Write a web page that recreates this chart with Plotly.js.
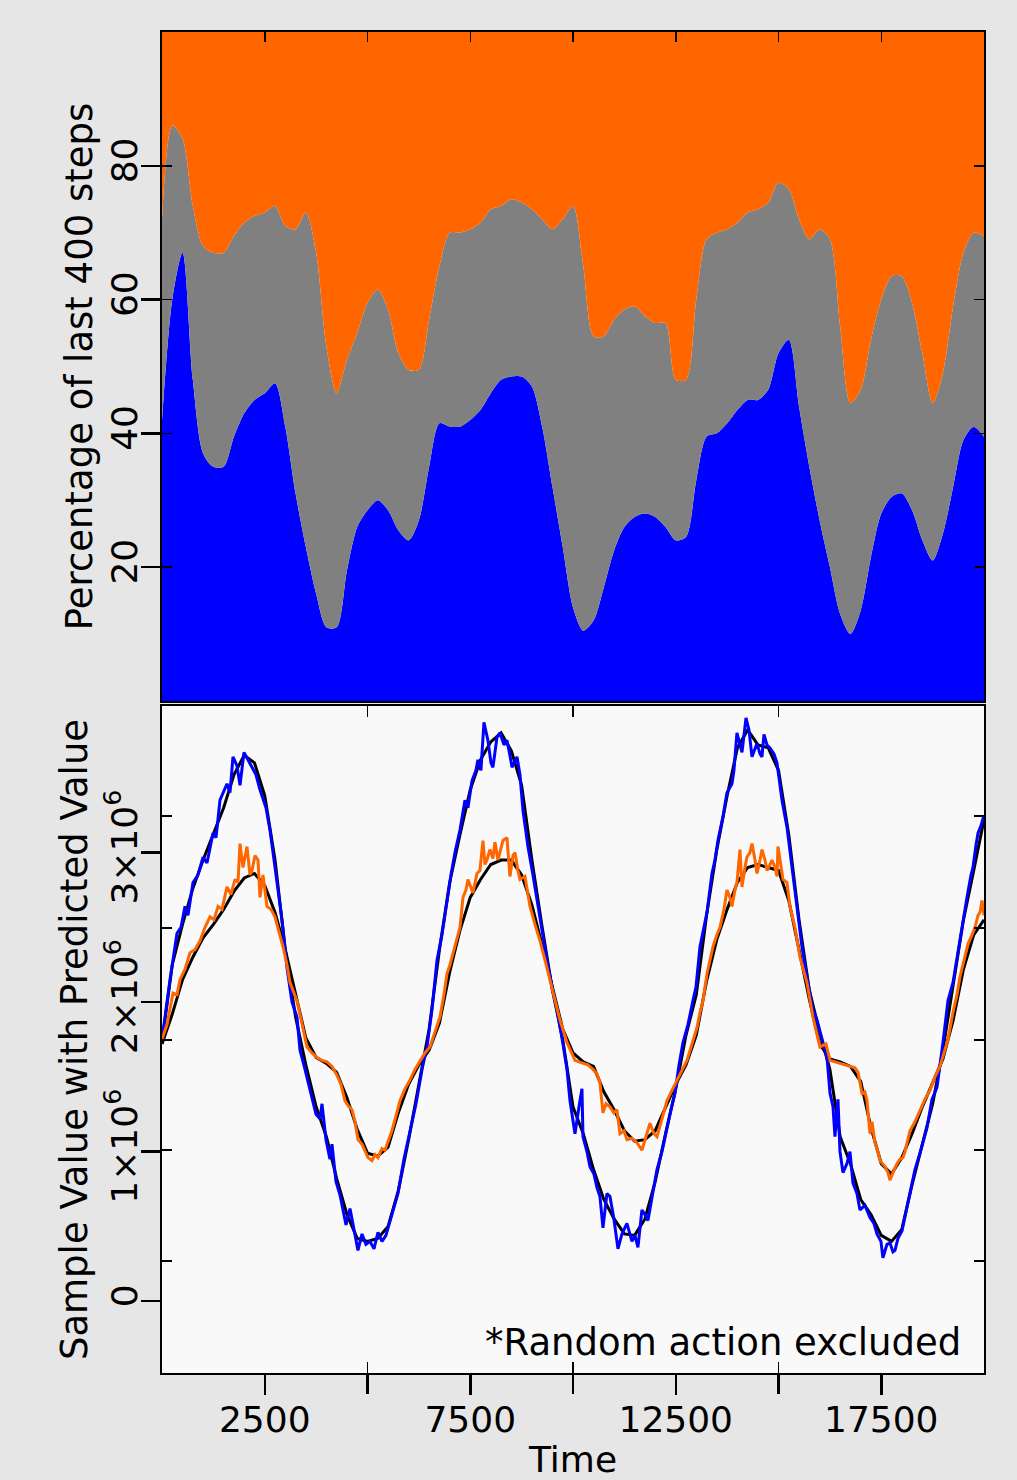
<!DOCTYPE html>
<html>
<head>
<meta charset="utf-8">
<script src="https://cdn.plot.ly/plotly-3.0.1.min.js"></script>
<style>html,body{margin:0;padding:0;background:#e6e6e6;}#chart{width:1017px;height:1480px;}</style>
</head>
<body>
<div id="chart"></div>
<script>
// ---------- Top panel: share of actions over last 400 steps ----------
const shareTime = [0,250,500,750,1000,1250,1500,1750,2000,2250,2500,2750,3000,3250,3500,3750,4000,4250,4500,4750,5000,5250,5500,5750,6000,6250,6500,6750,7000,7250,7500,7750,8000,8250,8500,8750,9000,9250,9500,9750,10000,10250,10500,10750,11000,11250,11500,11750,12000,12250,12500,12750,13000,13250,13500,13750,14000,14250,14500,14750,15000,15250,15500,15750,16000,16250,16500,16750,17000,17250,17500,17750,18000,18250,18500,18750,19000,19250,19500,19750,20000];
// upper edge of the blue band (percent)
const blueTop = [42,60,67,48,37,35,35,39.5,43,45,46,47.5,41,31,23,16,11,11,19.5,26,28.5,30,28.5,25.5,24,27,35,41.5,41,41,42,43.5,46,48,48.5,48.5,47,41,32,23,14,10.5,12,17,22.5,26,27.5,28,27.5,26,24,24.5,33,39.5,40,41.5,43.5,45,45,46.5,52,54,44,35,27,20,13,10,13.5,21.5,28,30.5,31,28.5,24,21,25,32,39,41,39.5];
// upper edge of the gray band (percent)
const grayTop = [72,86,84,74,68,67,67,69.5,71.5,72.5,73,74,71,70.5,73,67,53,46,51,55,59.5,61.5,58.5,52,49.5,49.5,57,65,70,70,70.5,71.5,73.5,74,75,74.5,73.5,72,70.5,72,74,65,54.5,54.5,57,58.5,59,57.5,56.5,56.5,48,48,60,69,70,70.5,71.5,73,73.5,74.5,77.5,76.5,72,69,70.5,69,56,44.5,46.5,54,60,63.5,63.5,59.5,52,44.5,49,59,67,70,69.5];

// ---------- Bottom panel: sample values and predictions (millions) ----------
const bluePredTime = [0,195,365,462,560,633,754,876,998,1095,1241,1314,1411,1581,1654,1727,1825,1898,1995,2092,2190,2287,2384,2530,2628,2798,2920,3041,3163,3285,3357,3479,3601,3747,3844,3893,3990,4087,4136,4233,4331,4477,4574,4671,4768,4866,4963,5060,5158,5255,5352,5449,5595,5741,5887,6033,6180,6326,6447,6569,6691,6812,6934,7031,7128,7250,7371,7444,7542,7639,7687,7760,7833,7930,8004,8052,8150,8223,8320,8393,8466,8515,8637,8710,8783,8904,9026,9124,9245,9367,9489,9610,9756,9854,9927,10048,10146,10218,10243,10340,10413,10510,10583,10656,10729,10826,10899,10996,11094,11191,11312,11434,11507,11580,11677,11750,11823,11920,12043,12165,12286,12384,12481,12579,12676,12797,12919,12992,13089,13187,13260,13381,13454,13527,13649,13746,13868,13916,13989,14063,14112,14209,14282,14355,14428,14477,14550,14598,14647,14720,14793,14890,14963,15085,15206,15328,15450,15571,15717,15839,15936,16058,16180,16253,16326,16374,16447,16496,16569,16666,16739,16812,16909,16982,17104,17225,17322,17395,17493,17541,17639,17712,17785,17834,17907,18004,18101,18198,18320,18442,18613,18734,18856,19002,19124,19245,19343,19416,19513,19586,19683,19732,19805,19854,19927,20000];
const bluePred = [1.75,2.15,2.46,2.50,2.64,2.58,2.80,2.85,2.97,2.93,3.13,3.10,3.35,3.46,3.40,3.64,3.58,3.45,3.67,3.62,3.57,3.52,3.42,3.30,3.15,2.80,2.55,2.23,2.00,1.90,1.68,1.55,1.41,1.25,1.22,1.32,1.08,0.95,1.05,0.80,0.71,0.51,0.62,0.48,0.34,0.45,0.38,0.40,0.35,0.46,0.40,0.44,0.58,0.72,0.95,1.14,1.32,1.55,1.70,1.95,2.28,2.45,2.68,2.85,3.00,3.15,3.35,3.30,3.48,3.55,3.62,3.55,3.87,3.75,3.60,3.57,3.77,3.80,3.72,3.75,3.65,3.57,3.64,3.52,3.28,3.04,2.85,2.68,2.48,2.28,2.10,1.95,1.72,1.55,1.34,1.12,1.30,1.42,1.10,1.00,0.90,0.85,0.76,0.70,0.49,0.72,0.70,0.55,0.35,0.45,0.52,0.40,0.44,0.36,0.61,0.58,0.54,0.70,0.88,1.00,1.16,1.28,1.39,1.58,1.73,1.85,2.01,2.10,2.37,2.50,2.60,2.86,2.95,3.08,3.24,3.40,3.46,3.55,3.80,3.72,3.67,3.90,3.82,3.64,3.70,3.73,3.66,3.64,3.79,3.72,3.70,3.66,3.60,3.35,3.17,2.90,2.64,2.37,2.13,1.95,1.88,1.75,1.63,1.39,1.30,1.10,1.35,1.00,0.86,0.92,1.00,0.79,0.72,0.61,0.64,0.56,0.52,0.45,0.40,0.29,0.38,0.39,0.33,0.34,0.42,0.47,0.60,0.72,0.88,0.99,1.16,1.35,1.43,1.73,2.01,2.13,2.30,2.41,2.60,2.70,2.85,2.90,3.05,3.13,3.18,3.25];

const sampleTime = [0,250,500,750,1000,1250,1500,1750,2000,2250,2500,2750,3000,3250,3500,3750,4000,4250,4500,4750,5000,5250,5500,5750,6000,6250,6500,6750,7000,7250,7500,7750,8000,8250,8500,8750,9000,9250,9500,9750,10000,10250,10500,10750,11000,11250,11500,11750,12000,12250,12500,12750,13000,13250,13500,13750,14000,14250,14500,14750,15000,15250,15500,15750,16000,16250,16500,16750,17000,17250,17500,17750,18000,18250,18500,18750,19000,19250,19500,19750,20000];
const sampleA = [1.73,2.25,2.52,2.76,2.95,3.12,3.30,3.52,3.65,3.60,3.38,2.95,2.35,1.90,1.58,1.30,1.10,0.82,0.58,0.42,0.40,0.42,0.50,0.74,1.08,1.45,1.82,2.35,2.80,3.12,3.42,3.62,3.74,3.80,3.68,3.45,2.95,2.50,2.08,1.75,1.30,1.12,0.88,0.68,0.55,0.45,0.44,0.55,0.80,1.12,1.42,1.78,2.05,2.58,3.02,3.38,3.70,3.82,3.72,3.70,3.55,3.12,2.55,2.08,1.80,1.55,1.10,0.92,0.68,0.58,0.44,0.40,0.48,0.78,1.05,1.32,1.68,2.10,2.55,2.88,3.22];
const sampleB = [1.72,1.92,2.15,2.30,2.43,2.52,2.62,2.74,2.83,2.86,2.78,2.60,2.35,2.05,1.76,1.63,1.59,1.53,1.36,1.15,0.99,0.97,1.03,1.26,1.45,1.58,1.68,1.86,2.20,2.48,2.70,2.82,2.92,2.95,2.95,2.85,2.65,2.38,2.10,1.82,1.66,1.60,1.57,1.40,1.28,1.14,1.07,1.08,1.14,1.30,1.45,1.58,1.78,2.14,2.42,2.62,2.80,2.90,2.92,2.90,2.88,2.68,2.35,2.02,1.72,1.62,1.60,1.57,1.47,1.16,0.92,0.85,0.96,1.12,1.30,1.46,1.62,1.88,2.22,2.45,2.55];

const orangePredTime = [0,122,268,365,438,560,681,803,925,1046,1168,1265,1363,1460,1581,1679,1776,1849,1898,1971,2068,2141,2190,2263,2336,2384,2457,2555,2652,2749,2847,2944,3041,3114,3285,3406,3528,3649,3771,3893,4014,4136,4258,4355,4452,4550,4623,4696,4769,4866,4939,5012,5109,5182,5255,5352,5425,5522,5595,5693,5790,5912,6034,6155,6277,6398,6520,6642,6763,6861,6934,7007,7080,7177,7250,7323,7396,7444,7517,7566,7663,7736,7809,7858,7906,7979,8052,8101,8174,8247,8295,8393,8466,8539,8588,8661,8710,8831,8953,9075,9197,9318,9440,9562,9683,9854,9975,10048,10146,10243,10365,10486,10583,10656,10729,10802,10899,10996,11069,11142,11240,11313,11434,11556,11678,11775,11872,11970,12043,12165,12286,12408,12530,12651,12773,12895,13017,13089,13162,13260,13333,13406,13503,13576,13673,13746,13819,13868,13941,13989,14062,14111,14184,14233,14306,14355,14428,14477,14550,14598,14671,14720,14793,14841,14914,14963,14987,15060,15109,15206,15279,15400,15522,15692,15838,16009,16155,16253,16374,16496,16618,16739,16861,16934,17031,17104,17153,17226,17274,17347,17420,17469,17591,17664,17712,17785,17882,17955,18028,18077,18198,18320,18442,18563,18685,18807,18928,19026,19124,19245,19343,19416,19513,19611,19708,19781,19854,19903,19951,20000];
const orangePred = [1.75,1.85,2.06,2.05,2.15,2.22,2.33,2.35,2.41,2.50,2.57,2.55,2.64,2.62,2.77,2.72,2.82,2.80,3.06,2.90,3.04,2.85,2.88,2.98,2.95,2.70,2.85,2.64,2.62,2.57,2.47,2.37,2.25,2.13,2.01,1.85,1.70,1.66,1.63,1.61,1.60,1.57,1.51,1.45,1.34,1.30,1.28,1.20,1.08,1.05,1.01,0.96,0.94,0.98,0.96,1.02,1.01,1.08,1.14,1.24,1.34,1.42,1.48,1.55,1.61,1.66,1.70,1.80,1.90,2.05,2.19,2.25,2.33,2.42,2.50,2.70,2.75,2.82,2.76,2.73,2.86,2.88,3.08,2.92,2.95,3.02,2.96,3.07,2.95,3.03,3.08,3.10,2.84,2.98,3.00,2.88,2.82,2.84,2.64,2.52,2.41,2.28,2.15,2.02,1.88,1.73,1.66,1.61,1.60,1.59,1.58,1.55,1.52,1.46,1.26,1.32,1.30,1.26,1.28,1.12,1.14,1.08,1.09,1.06,1.01,1.10,1.19,1.12,1.10,1.22,1.34,1.41,1.48,1.55,1.61,1.72,1.83,1.93,2.01,2.19,2.28,2.37,2.45,2.50,2.62,2.75,2.70,2.64,2.75,2.80,3.02,2.77,2.90,2.97,3.00,3.06,2.95,2.86,2.95,3.02,2.95,2.88,2.92,2.95,2.90,2.84,3.04,2.90,2.82,2.80,2.64,2.50,2.30,2.13,1.90,1.70,1.72,1.61,1.60,1.59,1.58,1.57,1.56,1.53,1.39,1.40,1.34,1.12,1.20,1.06,1.00,0.94,0.90,0.86,0.81,0.86,0.92,0.95,0.96,1.00,1.14,1.20,1.28,1.35,1.41,1.50,1.57,1.66,1.75,1.93,2.05,2.17,2.28,2.39,2.45,2.50,2.58,2.60,2.68,2.58];

// axis ticks
const timeAllTicks = [2500,5000,7500,10000,12500,15000,17500];
const timeLabelTicks = [2500,7500,12500,17500];
const timeTickText = ['2500','7500','12500','17500'];
const timeMinorTicks = [5000,10000,15000];
const pctTicks = [20,40,60,80];
const pctTickText = ['20','40','60','80'];
const valueTicks = [0,1,2,3];
const valueTickText = ['0','1×10<sup>6</sup>','2×10<sup>6</sup>','3×10<sup>6</sup>'];
const valueInnerTicks = [0.268,1.010,1.746,2.495,3.244];

// derived band widths for stacking
const bluePct = blueTop.slice();
const grayPct = grayTop.map((g,i)=>g-blueTop[i]);
const orangePct = grayTop.map(g=>100-g);

const FONT = 'DejaVu Sans, Liberation Sans, sans-serif';
const traces = [
  {x:shareTime, y:bluePct, type:'scatter', mode:'lines', stackgroup:'share', line:{width:0, shape:'spline', smoothing:0.8}, fillcolor:'#0000ff', xaxis:'x', yaxis:'y', hoverinfo:'skip'},
  {x:shareTime, y:grayPct, type:'scatter', mode:'lines', stackgroup:'share', line:{width:0, shape:'spline', smoothing:0.8}, fillcolor:'#808080', xaxis:'x', yaxis:'y', hoverinfo:'skip'},
  {x:shareTime, y:orangePct, type:'scatter', mode:'lines', stackgroup:'share', line:{width:0, shape:'spline', smoothing:0.8}, fillcolor:'#ff6600', xaxis:'x', yaxis:'y', hoverinfo:'skip'},
  {x:sampleTime, y:sampleA, type:'scatter', mode:'lines', line:{color:'#000000', width:3}, xaxis:'x2', yaxis:'y2'},
  {x:sampleTime, y:sampleB, type:'scatter', mode:'lines', line:{color:'#000000', width:3}, xaxis:'x2', yaxis:'y2'},
  {x:bluePredTime, y:bluePred, type:'scatter', mode:'lines', line:{color:'#0000ff', width:3}, xaxis:'x2', yaxis:'y2'},
  {x:orangePredTime, y:orangePred, type:'scatter', mode:'lines', line:{color:'#ff6600', width:3}, xaxis:'x2', yaxis:'y2'},
  {x:[], y:[], type:'scatter', xaxis:'x', yaxis:'y3', showlegend:false},
  {x:[], y:[], type:'scatter', xaxis:'x4', yaxis:'y2', showlegend:false},
  {x:[], y:[], type:'scatter', xaxis:'x5', yaxis:'y2', showlegend:false},
  {x:[], y:[], type:'scatter', xaxis:'x2', yaxis:'y4', showlegend:false}
];

const tickFont = {family:FONT, size:36, color:'#000'};
const layout = {
  width:1017, height:1480,
  margin:{l:162, r:33, t:32, b:107},
  paper_bgcolor:'#e6e6e6', plot_bgcolor:'#f9f9f9',
  showlegend:false,
  font:{family:FONT, size:36, color:'#000'},
  xaxis:{domain:[0,1], anchor:'y', range:[0,20000], side:'top', showgrid:false, zeroline:false,
    showline:true, mirror:true, linecolor:'#000', linewidth:2,
    ticks:'inside', tickvals:timeAllTicks, ticklen:10, tickwidth:1.5, tickcolor:'#000', showticklabels:false},
  yaxis:{domain:[0.5012,1], anchor:'x', range:[0,100], showgrid:false, zeroline:false,
    showline:true, mirror:true, linecolor:'#000', linewidth:2,
    ticks:'outside', tickvals:pctTicks, ticktext:pctTickText, ticklen:19, tickwidth:2.5, tickcolor:'#000',
    tickangle:-90, tickfont:tickFont, ticklabelstandoff:-10,
    title:{text:'Percentage of last 400 steps', font:{family:FONT, size:37, color:'#000'}, standoff:0}},
  yaxis3:{overlaying:'y', anchor:'x', range:[0,100], showgrid:false, zeroline:false, showline:false,
    ticks:'inside', tickvals:pctTicks, ticklen:10, tickwidth:1.5, tickcolor:'#000', mirror:'ticks', showticklabels:false},
  xaxis2:{domain:[0,1], anchor:'y2', range:[0,20000], showgrid:false, zeroline:false,
    showline:true, mirror:true, linecolor:'#000', linewidth:2,
    ticks:'outside', tickvals:timeLabelTicks, ticktext:timeTickText, ticklen:20, tickwidth:2.5, tickcolor:'#000',
    tickfont:tickFont, ticklabelstandoff:-6,
    title:{text:'Time', font:{family:FONT, size:36, color:'#000'}, standoff:10}},
  xaxis4:{overlaying:'x2', anchor:'y2', range:[0,20000], showgrid:false, zeroline:false, showline:false,
    ticks:'inside', tickvals:timeMinorTicks, ticklen:11, tickwidth:1.5, tickcolor:'#000', mirror:'ticks', showticklabels:false},
  xaxis5:{overlaying:'x2', anchor:'y2', range:[0,20000], showgrid:false, zeroline:false, showline:false,
    ticks:'outside', tickvals:timeMinorTicks, ticklen:20, tickwidth:2.5, tickcolor:'#000', showticklabels:false},
  yaxis2:{domain:[0,0.4974], anchor:'x2', range:[-0.48,3.98], showgrid:false, zeroline:false,
    showline:true, mirror:true, linecolor:'#000', linewidth:2,
    ticks:'outside', tickvals:valueTicks, ticktext:valueTickText, ticklen:19, tickwidth:2.5, tickcolor:'#000',
    tickangle:-90, tickfont:tickFont, ticklabelstandoff:-10,
    title:{text:'Sample Value with Predicted Value', font:{family:FONT, size:37, color:'#000'}, standoff:0}},
  yaxis4:{overlaying:'y2', anchor:'x2', range:[-0.48,3.98], showgrid:false, zeroline:false, showline:false,
    ticks:'inside', tickvals:valueInnerTicks, ticklen:10, tickwidth:1.5, tickcolor:'#000', mirror:'ticks', showticklabels:false},
  annotations:[
    {text:'*Random action excluded', xref:'paper', yref:'paper', x:0.9745, y:0.0231, xanchor:'right', yanchor:'middle',
     showarrow:false, font:{family:FONT, size:37, color:'#000'}}
  ]
};

Plotly.newPlot('chart', traces, layout, {staticPlot:true, displayModeBar:false});
</script>
</body>
</html>
